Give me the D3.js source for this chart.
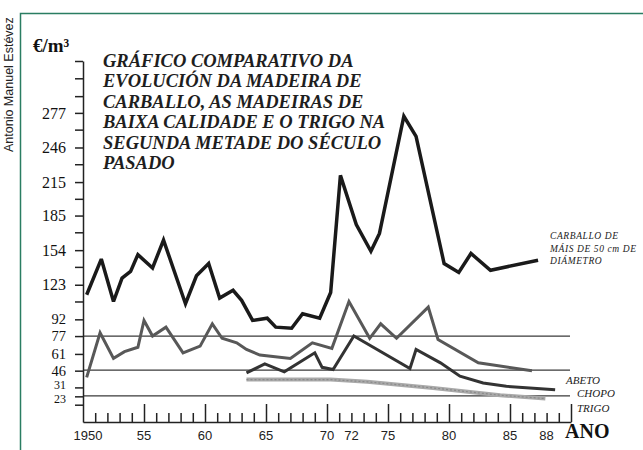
<!DOCTYPE html>
<html>
<head>
<meta charset="utf-8">
<script src="https://cdn.jsdelivr.net/npm/d3@7"></script>
<style>
  body { margin: 0; background: #fff; }
  svg { display: block; }
</style>
</head>
<body>
<div id="chart"></div>
<script>
// Values (€/m3). The original is hand drawn,
// so the vertices do not sit exactly on whole years.
const carballoYears  = [1950.3, 1951.5, 1952.5, 1953.2, 1953.9, 1954.5, 1955.7, 1956.6, 1958.4, 1959.3,
                        1960.3, 1961.2, 1962.3, 1963.0, 1963.9, 1965.1, 1965.8, 1967.1, 1968.0, 1969.4,
                        1970.3, 1971.1, 1972.4, 1973.6, 1974.3, 1976.3, 1977.3, 1979.6, 1980.8, 1981.8,
                        1983.4, 1987.3];
const carballoValues = [114, 146, 108, 129, 135, 150, 138, 163, 106, 131,
                        142, 111, 118, 109, 91, 93, 85, 84, 97, 93,
                        116, 221, 177, 153, 169, 274, 256, 142, 134, 151,
                        136, 145];

const abetoYears  = [1950.3, 1951.4, 1952.5, 1953.4, 1954.5, 1955.0, 1955.7, 1956.8, 1958.2, 1959.6,
                     1960.6, 1961.4, 1962.6, 1963.4, 1964.5, 1967.0, 1968.8, 1970.4, 1971.8, 1973.5,
                     1974.4, 1975.7, 1978.3, 1979.1, 1982.4, 1986.8];
const abetoValues = [40, 80, 57, 63, 67, 91, 77, 85, 62, 68,
                     88, 75, 71, 65, 60, 57, 71, 66, 108, 75,
                     88, 75, 103, 74, 53, 46];

const chopoYears  = [1963.4, 1964.9, 1966.5, 1969.0, 1969.6, 1970.5, 1972.2, 1976.8, 1977.3, 1979.3,
                     1980.9, 1982.8, 1984.7, 1988.7];
const chopoValues = [44, 52, 45, 62, 49, 47, 77, 48, 65, 53,
                     41, 35, 32, 29];

const trigoYears  = [1963.4, 1970.3, 1973.3, 1978.7, 1984.2, 1987.9];
const trigoValues = [38, 38, 36, 30.5, 24, 21];

const refLevels = [77, 46.5, 23.5];

const yLabelTicks = [23, 31, 46, 61, 77, 92, 123, 154, 185, 215, 246, 277];
const yMinorTicks = [15.5, 108, 139, 170, 200, 231, 262, 292, 308, 323.5];

const xLabelYears = [1950, 1955, 1960, 1965, 1970, 1972, 1975, 1980, 1985, 1988];
const xLabelTexts = ["1950", "55", "60", "65", "70", "72", "75", "80", "85", "88"];

const titleLines = [
  "GRÁFICO COMPARATIVO DA",
  "EVOLUCIÓN DA MADEIRA DE",
  "CARBALLO, AS MADEIRAS DE",
  "BAIXA CALIDADE E O TRIGO NA",
  "SEGUNDA METADE DO SÉCULO",
  "PASADO"
];
const carballoNote = ["CARBALLO DE", "MÁIS DE 50 cm DE", "DIÁMETRO"];
const seriesNames = ["ABETO", "CHOPO", "TRIGO"];

const width = 643;
const height = 450;
const serif = "'Liberation Serif', 'Times New Roman', serif";
const sans = "'Liberation Sans', Arial, sans-serif";

const svg = d3.select("#chart")
  .append("svg")
  .attr("width", width)
  .attr("height", height);

const x = d3.scaleLinear().domain([1950, 1990]).range([83, 571]);
const y = d3.scaleLinear().domain([0, 323.5]).range([422, 61]);

// green frame of the scan (only the top and left edges show)
svg.append("path")
  .attr("d", `M20.5,${height}V13.5H${width}`)
  .attr("fill", "none")
  .attr("stroke", "#2a7d62")
  .attr("stroke-width", 1.5);

svg.append("text")
  .attr("transform", "translate(13,152) rotate(-90)")
  .text("Antonio Manuel Estévez")
  .style("font-family", sans)
  .style("font-size", "12.5px")
  .style("fill", "#222");

// horizontal reference levels
svg.append("g")
  .selectAll("line")
  .data(refLevels)
  .join("line")
  .attr("x1", x(1950))
  .attr("x2", x(1990) - 1)
  .attr("y1", d => y(d))
  .attr("y2", d => y(d))
  .attr("stroke", "#3a3a3a")
  .attr("stroke-width", 1.3);

// y axis
const yAxis = svg.append("g")
  .attr("transform", `translate(${x(1950)},0)`)
  .call(d3.axisLeft(y)
    .tickValues(yLabelTicks.concat(yMinorTicks))
    .tickSize(8)
    .tickSizeOuter(0)
    .tickPadding(9)
    .tickFormat(d => yLabelTicks.includes(d) ? d : ""));
yAxis.selectAll("text")
  .style("font-family", serif)
  .style("font-size", d => d >= 123 ? "16px" : d >= 46 ? "14.5px" : "12px")
  .style("fill", "#111");
// the two lowest labels are squeezed together in the original
yAxis.selectAll(".tick text")
  .filter(d => d === 31 || d === 23)
  .attr("y", d => d === 31 ? -2.5 : 2.5);

// x axis, ticks point up into the plot
const xAxis = svg.append("g")
  .attr("transform", `translate(0,${y(0)})`)
  .call(d3.axisBottom(x)
    .tickValues(d3.range(1951, 1991))
    .tickSize(-9)
    .tickSizeOuter(0)
    .tickFormat(""));
xAxis.selectAll(".tick line")
  .attr("y2", d => d % 5 === 0 ? -18 : -9);

svg.selectAll(".domain, .tick line")
  .attr("stroke", "#222")
  .attr("stroke-width", 1.5);

svg.append("g")
  .selectAll("text")
  .data(xLabelYears)
  .join("text")
  .attr("x", (d, i) => x(d) + (i === 0 ? 5 : 0))
  .attr("y", 440)
  .attr("text-anchor", "middle")
  .text((d, i) => xLabelTexts[i])
  .style("font-family", sans)
  .style("font-size", "13px")
  .style("fill", "#222");

// series
const line = d3.line()
  .x(d => x(d[0]))
  .y(d => y(d[1]));

svg.append("path")
  .datum(d3.zip(trigoYears, trigoValues))
  .attr("d", line)
  .attr("fill", "none")
  .attr("stroke", "#a9a9a9")
  .attr("stroke-width", 4);
svg.append("path")
  .datum(d3.zip(trigoYears, trigoValues))
  .attr("d", line)
  .attr("fill", "none")
  .attr("stroke", "#8a8a8a")
  .attr("stroke-width", 1.2)
  .attr("stroke-dasharray", "2,2");

svg.append("path")
  .datum(d3.zip(chopoYears, chopoValues))
  .attr("d", line)
  .attr("fill", "none")
  .attr("stroke", "#333")
  .attr("stroke-width", 3)
  .attr("stroke-linejoin", "miter");

svg.append("path")
  .datum(d3.zip(abetoYears, abetoValues))
  .attr("d", line)
  .attr("fill", "none")
  .attr("stroke", "#585858")
  .attr("stroke-width", 3)
  .attr("stroke-linejoin", "miter");

svg.append("path")
  .datum(d3.zip(carballoYears, carballoValues))
  .attr("d", line)
  .attr("fill", "none")
  .attr("stroke", "#1a1a1a")
  .attr("stroke-width", 3.5)
  .attr("stroke-linejoin", "miter")
  .attr("stroke-miterlimit", 3);

// titles and labels
svg.append("text")
  .attr("x", 33)
  .attr("y", 52)
  .text("€/m³")
  .style("font-family", serif)
  .style("font-weight", "bold")
  .style("font-size", "19px")
  .style("fill", "#111");

svg.append("g")
  .selectAll("text")
  .data(titleLines)
  .join("text")
  .attr("x", 103)
  .attr("y", (d, i) => 67 + i * 20.4)
  .text(d => d)
  .style("font-family", serif)
  .style("font-weight", "bold")
  .style("font-style", "italic")
  .style("font-size", "18.5px")
  .style("fill", "#1e1e1e");

svg.append("g")
  .selectAll("text")
  .data(carballoNote)
  .join("text")
  .attr("x", 550)
  .attr("y", (d, i) => 239 + i * 12.5)
  .text(d => d)
  .style("font-family", serif)
  .style("font-style", "italic")
  .style("font-size", "9.5px")
  .style("letter-spacing", "0.6px")
  .style("fill", "#222");

svg.append("g")
  .selectAll("text")
  .data(seriesNames)
  .join("text")
  .attr("x", (d, i) => i === 0 ? 566 : 577)
  .attr("y", (d, i) => [384, 397, 412][i])
  .text(d => d)
  .style("font-family", serif)
  .style("font-style", "italic")
  .style("font-size", "11px")
  .style("fill", "#222");

svg.append("text")
  .attr("x", 565)
  .attr("y", 438)
  .text("ANO")
  .style("font-family", serif)
  .style("font-weight", "bold")
  .style("font-size", "20px")
  .style("fill", "#111");
</script>
</body>
</html>
